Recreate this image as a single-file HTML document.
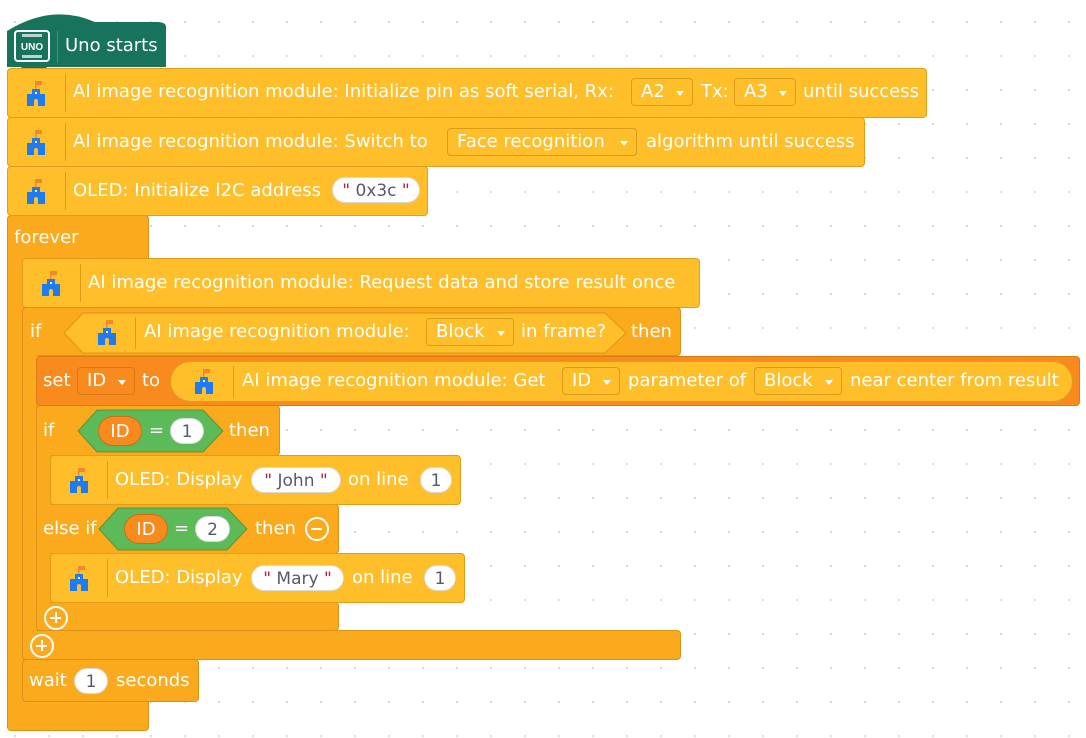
<!DOCTYPE html>
<html><head><meta charset="utf-8"><style>
*{margin:0;padding:0;box-sizing:border-box}
body{width:1086px;height:738px;overflow:hidden;background:#fff;background-image:radial-gradient(circle,#d8d8d8 1px,transparent 1.3px);background-size:34px 34px;background-position:-2px 5px;position:relative;font-family:"DejaVu Sans","Liberation Sans",sans-serif}
.b{position:absolute;border:1px solid rgba(160,100,0,.35);border-radius:4px}
.a{position:absolute;background:#FBAA1E}
.y{background:#FFBF2B}
.o{background:#FBAA1E}
.r{background:#F98B1E}
.t{position:absolute;color:#fff;font-size:18px;line-height:22px;white-space:nowrap}
.dd{position:absolute;border:1px solid rgba(150,90,0,.35);border-radius:4px;height:28px;color:#fff;font-size:18px;line-height:26px;padding-left:9px;white-space:nowrap}
.dd:after{content:"";position:absolute;right:8px;top:12px;border:4.5px solid transparent;border-top:5px solid #fff}
.yd{background:#FFBF2B}.od{background:#F98B1E}
.pill{position:absolute;background:#fff;border-radius:14px;height:26px;color:#555a70;font-size:17px;line-height:26px;text-align:center;border:1px solid rgba(0,0,0,.15);white-space:nowrap}
.sep{position:absolute;width:1px;background:rgba(180,110,0,.45)}
.ic{position:absolute;width:28px;height:28px}
.pl{position:absolute;width:24px;height:24px;border:2.5px solid #fff;border-radius:50%}
.pl:before,.pl:after{content:"";position:absolute;background:#fff;left:4px;top:8.5px;width:11px;height:2.5px}
.pl.p:after{left:8.5px;top:4px;width:2.5px;height:11px}
.idp{position:absolute;background:#F98B1E;border-radius:16px;height:30px;color:#fff;font-size:18px;line-height:30px;text-align:center;border:1px solid rgba(120,60,0,.35)}
</style></head><body>
<svg width="0" height="0" style="position:absolute"><defs><g id="c"><rect x="13" y="2" width="7" height="4" fill="#F4872C"/><rect x="13" y="2" width="1.5" height="8" fill="#F4872C"/><path d="M10 10h8v5h5v12h-7v-5a2 2 0 0 0-4 0v5H5V15h5z" fill="#1E7BF0"/><rect x="13" y="13" width="2" height="2" fill="#fff"/></g></defs></svg>

<!-- hat -->
<svg style="position:absolute;left:7px;top:9px" width="160" height="62"><path d="M0 22 Q45 -6 88 13 L150 13 Q159 13 159 18 L159 58 L0 58 Z" fill="#18735C"/><path d="M14 58 l6 6 h14 l6 -6z" fill="#18735C"/></svg>
<svg style="position:absolute;left:14px;top:30px" width="36" height="32"><rect x="1" y="1" width="34" height="30" rx="3" fill="none" stroke="#fff" stroke-width="2"/><rect x="8" y="4" width="20" height="3" fill="#fff" opacity=".7"/><rect x="8" y="25" width="20" height="3" fill="#fff" opacity=".7"/><text x="18" y="20" font-size="10" font-weight="bold" fill="#fff" text-anchor="middle" font-family="Liberation Sans">UNO</text></svg>
<div class="sep" style="left:57px;top:31px;height:32px;background:rgba(255,255,255,.2)"></div>
<div class="t" style="left:65px;top:35px">Uno starts</div>

<!-- forever -->
<div class="b o" style="left:7px;top:215px;width:142px;height:516px"></div>
<div class="t" style="left:14px;top:227px">forever</div>

<!-- block1 -->
<div class="b y" style="left:7px;top:68px;width:920px;height:50px"></div>
<svg class="ic" style="left:22px;top:79px"><use href="#c"/></svg>
<div class="sep" style="left:65px;top:74px;height:38px"></div>
<div class="t" style="left:73px;top:81px">AI image recognition module: Initialize pin as soft serial, Rx:</div>
<div class="dd yd" style="left:631px;top:78px;width:62px">A2</div>
<div class="t" style="left:701px;top:81px">Tx:</div>
<div class="dd yd" style="left:734px;top:78px;width:62px">A3</div>
<div class="t" style="left:803px;top:81px">until success</div>

<!-- block2 -->
<div class="b y" style="left:7px;top:117px;width:858px;height:50px"></div>
<svg class="ic" style="left:22px;top:128px"><use href="#c"/></svg>
<div class="sep" style="left:65px;top:123px;height:38px"></div>
<div class="t" style="left:73px;top:131px">AI image recognition module: Switch to</div>
<div class="dd yd" style="left:447px;top:128px;width:190px">Face recognition</div>
<div class="t" style="left:646px;top:131px">algorithm until success</div>

<!-- block3 -->
<div class="b y" style="left:7px;top:166px;width:421px;height:50px"></div>
<svg class="ic" style="left:22px;top:177px"><use href="#c"/></svg>
<div class="sep" style="left:65px;top:172px;height:38px"></div>
<div class="t" style="left:73px;top:180px">OLED: Initialize I2C address</div>
<div class="pill" style="left:332px;top:177px;width:88px"><span style="color:#b0233a">"</span> 0x3c <span style="color:#b0233a">"</span></div>

<!-- request -->
<div class="b y" style="left:22px;top:258px;width:678px;height:50px"></div>
<svg class="ic" style="left:37px;top:269px"><use href="#c"/></svg>
<div class="sep" style="left:80px;top:264px;height:38px"></div>
<div class="t" style="left:88px;top:272px">AI image recognition module: Request data and store result once</div>

<!-- outer if -->
<div class="b o" style="left:22px;top:307px;width:659px;height:49px"></div>
<div class="b o" style="left:22px;top:630px;width:659px;height:30px"></div>
<div class="b o" style="left:22px;top:340px;width:15px;height:300px;border-right:none;border-radius:0"></div>
<div class="a" style="left:23px;top:310px;width:14px;height:340px"></div>
<div class="t" style="left:30px;top:321px">if</div>
<svg style="position:absolute;left:63px;top:312px" width="565" height="42"><path d="M20 1 H542 L563 21 L542 41 H20 L1 21 Z" fill="#FFBF2B" stroke="rgba(170,100,0,.4)"/></svg>
<svg class="ic" style="left:93px;top:318px"><use href="#c"/></svg>
<div class="sep" style="left:135px;top:317px;height:32px"></div>
<div class="t" style="left:144px;top:321px">AI image recognition module:</div>
<div class="dd yd" style="left:426px;top:318px;width:88px">Block</div>
<div class="t" style="left:521px;top:321px">in frame?</div>
<div class="t" style="left:631px;top:321px">then</div>
<div class="pl p" style="left:30px;top:634px"></div>

<!-- inner if -->
<div class="b o" style="left:36px;top:405px;width:244px;height:51px"></div>
<div class="b o" style="left:36px;top:504px;width:303px;height:50px"></div>
<div class="b o" style="left:36px;top:602px;width:303px;height:29px"></div>
<div class="b o" style="left:36px;top:440px;width:15px;height:180px;border-right:none;border-radius:0"></div>
<div class="a" style="left:37px;top:420px;width:13px;height:200px"></div>
<div class="t" style="left:43px;top:420px">if</div>
<svg style="position:absolute;left:77px;top:409px" width="148" height="44"><path d="M20 1 H126 L146 22 L126 43 H20 L1 22 Z" fill="#5CBB58" stroke="rgba(40,110,40,.5)"/></svg>
<div class="idp" style="left:98px;top:416px;width:44px">ID</div>
<div class="t" style="left:149px;top:420px">=</div>
<div class="pill" style="left:170px;top:418px;width:34px">1</div>
<div class="t" style="left:229px;top:420px">then</div>

<!-- set -->
<div class="b r" style="left:36px;top:356px;width:1044px;height:50px"></div>
<div class="t" style="left:43px;top:370px">set</div>
<div class="dd od" style="left:77px;top:367px;width:58px">ID</div>
<div class="t" style="left:142px;top:370px">to</div>
<div class="b y" style="left:170px;top:361px;width:903px;height:41px;border-radius:21px"></div>
<svg class="ic" style="left:190px;top:367px"><use href="#c"/></svg>
<div class="sep" style="left:233px;top:366px;height:32px"></div>
<div class="t" style="left:242px;top:370px">AI image recognition module: Get</div>
<div class="dd yd" style="left:562px;top:367px;width:58px">ID</div>
<div class="t" style="left:628px;top:370px">parameter of</div>
<div class="dd yd" style="left:754px;top:367px;width:88px">Block</div>
<div class="t" style="left:850px;top:370px">near center from result</div>

<!-- john -->
<div class="b y" style="left:50px;top:455px;width:411px;height:50px"></div>
<svg class="ic" style="left:65px;top:466px"><use href="#c"/></svg>
<div class="sep" style="left:107px;top:461px;height:38px"></div>
<div class="t" style="left:115px;top:469px">OLED: Display</div>
<div class="pill" style="left:251px;top:467px;width:90px"><span style="color:#b0233a">"</span> John <span style="color:#b0233a">"</span></div>
<div class="t" style="left:348px;top:469px">on line</div>
<div class="pill" style="left:420px;top:467px;width:32px">1</div>

<!-- else if -->
<div class="t" style="left:43px;top:518px">else if</div>
<svg style="position:absolute;left:98px;top:507px" width="151" height="44"><path d="M20 1 H129 L149 22 L129 43 H20 L1 22 Z" fill="#5CBB58" stroke="rgba(40,110,40,.5)"/></svg>
<div class="idp" style="left:124px;top:514px;width:44px">ID</div>
<div class="t" style="left:174px;top:518px">=</div>
<div class="pill" style="left:195px;top:516px;width:35px">2</div>
<div class="t" style="left:255px;top:518px">then</div>
<div class="pl" style="left:305px;top:517px"></div>

<!-- mary -->
<div class="b y" style="left:50px;top:553px;width:415px;height:50px"></div>
<svg class="ic" style="left:65px;top:564px"><use href="#c"/></svg>
<div class="sep" style="left:107px;top:559px;height:38px"></div>
<div class="t" style="left:115px;top:567px">OLED: Display</div>
<div class="pill" style="left:251px;top:565px;width:93px"><span style="color:#b0233a">"</span> Mary <span style="color:#b0233a">"</span></div>
<div class="t" style="left:352px;top:567px">on line</div>
<div class="pill" style="left:424px;top:565px;width:32px">1</div>
<div class="pl p" style="left:44px;top:606px"></div>

<!-- wait -->
<div class="b o" style="left:22px;top:659px;width:177px;height:43px"></div>
<div class="t" style="left:29px;top:670px">wait</div>
<div class="pill" style="left:74px;top:668px;width:34px">1</div>
<div class="t" style="left:116px;top:670px">seconds</div>
</body></html>
